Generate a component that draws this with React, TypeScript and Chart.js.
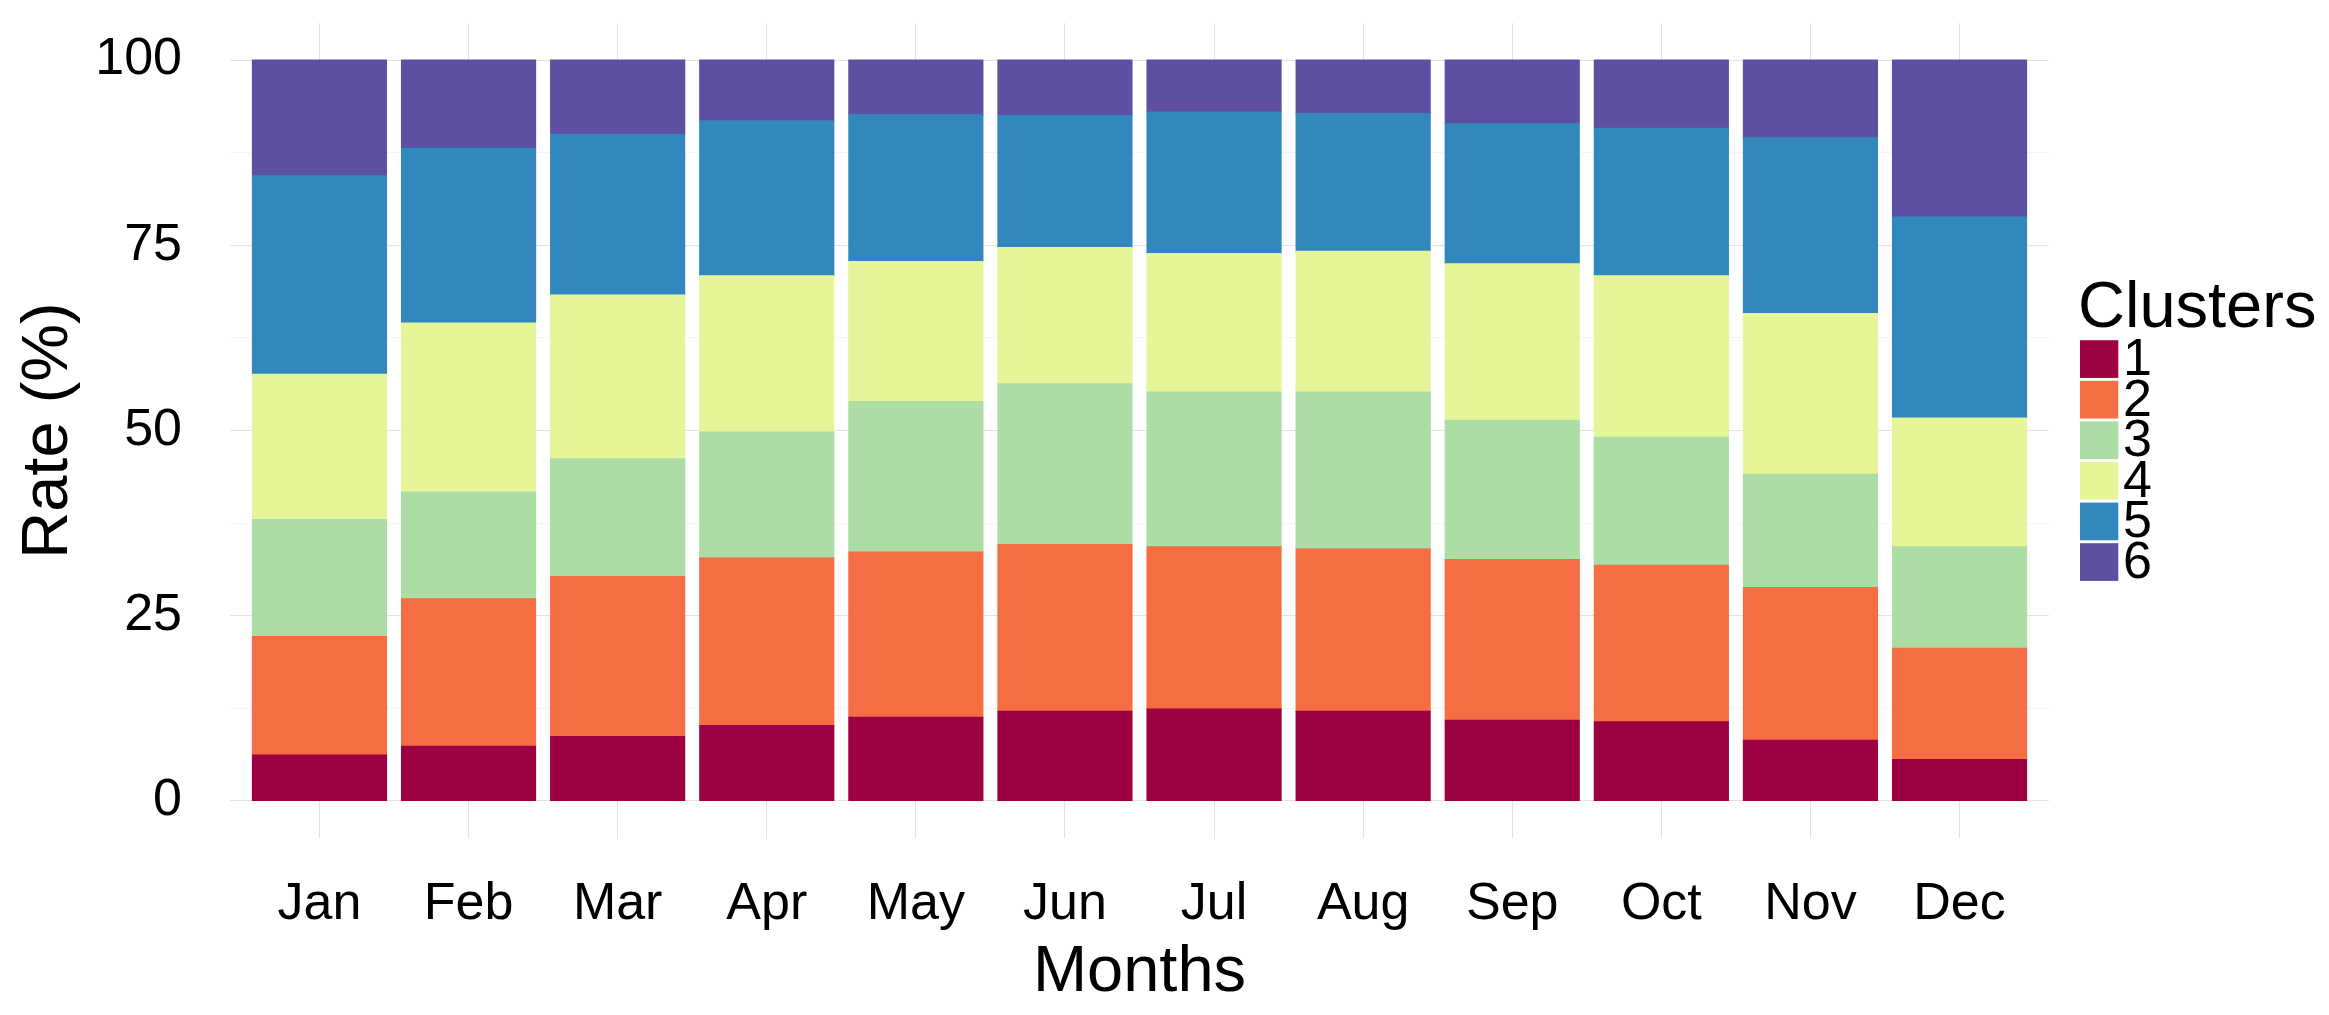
import { useEffect, useRef } from "react"
import { Chart, registerables } from "chart.js"

Chart.register(...registerables)

const months = ["Jan", "Feb", "Mar", "Apr", "May", "Jun", "Jul", "Aug", "Sep", "Oct", "Nov", "Dec"]
const clusterNames = ["1", "2", "3", "4", "5", "6"]
const clusterColors = ["#9E0142", "#F46D43", "#ABDDA4", "#E6F598", "#3288BD", "#5E4FA2"]

// share of each cluster per month (%), bottom to top
const cluster1 = [6.2, 7.4, 8.7, 10.2, 11.3, 12.1, 12.4, 12.1, 10.9, 10.7, 8.2, 5.6]
const cluster2 = [16.0, 19.9, 21.6, 22.6, 22.3, 22.5, 21.9, 21.9, 21.7, 21.1, 20.6, 15.0]
const cluster3 = [15.8, 14.4, 15.9, 17.0, 20.3, 21.7, 20.9, 21.2, 18.8, 17.3, 15.3, 13.7]
const cluster4 = [19.6, 22.8, 22.1, 21.1, 18.9, 18.4, 18.7, 19.0, 21.1, 21.8, 21.7, 17.4]
const cluster5 = [26.8, 23.6, 21.7, 20.9, 19.8, 17.8, 19.1, 18.6, 18.9, 19.9, 23.7, 27.1]
const cluster6 = [15.6, 11.9, 10.0, 8.2, 7.4, 7.5, 7.0, 7.2, 8.6, 9.2, 10.5, 21.2]

const yTickValues = [0, 25, 50, 75, 100]

const FONT = "'Liberation Sans', Arial, Helvetica, sans-serif"

// ggplot-like legend on the right
const clusterLegend = {
  id: "clusterLegend",
  afterDraw(chart: Chart) {
    const { ctx, chartArea } = chart
    const x = chartArea.right + 31
    ctx.save()
    ctx.fillStyle = "#000"
    ctx.font = `65px ${FONT}`
    ctx.textAlign = "left"
    ctx.textBaseline = "alphabetic"
    ctx.fillText("Clusters", x - 2, 327)
    chart.data.datasets.forEach((ds, i) => {
      const top = 340.2 + i * 40.6
      ctx.fillStyle = ds.backgroundColor as string
      ctx.fillRect(x, top, 38.3, 37.7)
      ctx.fillStyle = "#000"
      ctx.font = `52px ${FONT}`
      ctx.textBaseline = "middle"
      ctx.fillText(ds.label as string, x + 43, top + 20.5)
    })
    ctx.restore()
  },
}

// keep the axes from pushing the plot panel around
const noScalePadding = (scale: any) => {
  scale.paddingTop = 0
  scale.paddingBottom = 0
  scale.paddingLeft = 0
  scale.paddingRight = 0
}

export default function App() {
  const chartRef = useRef<HTMLCanvasElement>(null)
  const chartInstance = useRef<Chart | null>(null)

  useEffect(() => {
    if (!chartRef.current) return
    if (chartInstance.current) chartInstance.current.destroy()
    const ctx = chartRef.current.getContext("2d")
    if (!ctx) return

    const series = [cluster1, cluster2, cluster3, cluster4, cluster5, cluster6]

    chartInstance.current = new Chart(ctx, {
      type: "bar",
      data: {
        datasets: series.map((values, i) => ({
          label: clusterNames[i],
          data: values.map((y, x) => ({ x, y })),
          backgroundColor: clusterColors[i],
          borderWidth: 0,
          inflateAmount: 0.5,
          categoryPercentage: 1,
          barPercentage: 0.9,
        })),
      },
      options: {
        responsive: false,
        devicePixelRatio: 1,
        animation: false,
        layout: {
          autoPadding: false,
          padding: { top: 23, right: 280, bottom: 0, left: 0 },
        },
        plugins: {
          legend: { display: false },
          tooltip: { enabled: false },
        },
        scales: {
          x: {
            type: "linear",
            stacked: true,
            offset: false,
            min: -0.6,
            max: 11.6,
            afterFit: (scale) => {
              scale.height = 177
              noScalePadding(scale)
            },
            border: { display: false },
            grid: { offset: false, color: "#E3E3E3", lineWidth: 1, drawTicks: false },
            ticks: {
              stepSize: 1,
              includeBounds: false,
              autoSkip: false,
              maxRotation: 0,
              padding: 41,
              color: "#000",
              font: { family: FONT, size: 52, lineHeight: 1 },
              callback: (v) => months[v as number] ?? "",
            },
            title: {
              display: true,
              text: "Months",
              color: "#000",
              font: { family: FONT, size: 65, lineHeight: 1 },
              padding: { top: 0, bottom: 9 },
            },
          },
          y: {
            stacked: true,
            min: -5,
            max: 105,
            afterFit: (scale) => {
              scale.width = 230
              noScalePadding(scale)
            },
            border: { display: false },
            grid: {
              drawTicks: false,
              lineWidth: 1,
              color: (c) => (yTickValues.includes(c.tick?.value) ? "#E3E3E3" : "#F5F5F5"),
            },
            ticks: {
              stepSize: 12.5,
              includeBounds: false,
              padding: 48,
              color: "#000",
              font: { family: FONT, size: 52, lineHeight: 1 },
              callback: (v) => (yTickValues.includes(v as number) ? String(v) : ""),
            },
            title: {
              display: true,
              text: "Rate (%)",
              color: "#000",
              font: { family: FONT, size: 65, lineHeight: 1 },
              padding: { top: 17, bottom: 0 },
            },
          },
        },
      },
      plugins: [clusterLegend],
    })

    return () => {
      if (chartInstance.current) {
        chartInstance.current.destroy()
        chartInstance.current = null
      }
    }
  }, [])

  return (
    <div style={{ position: "absolute", left: 0, top: 0, width: 2329, height: 1015, background: "#fff" }}>
      <canvas ref={chartRef} width={2329} height={1015} />
    </div>
  )
}
